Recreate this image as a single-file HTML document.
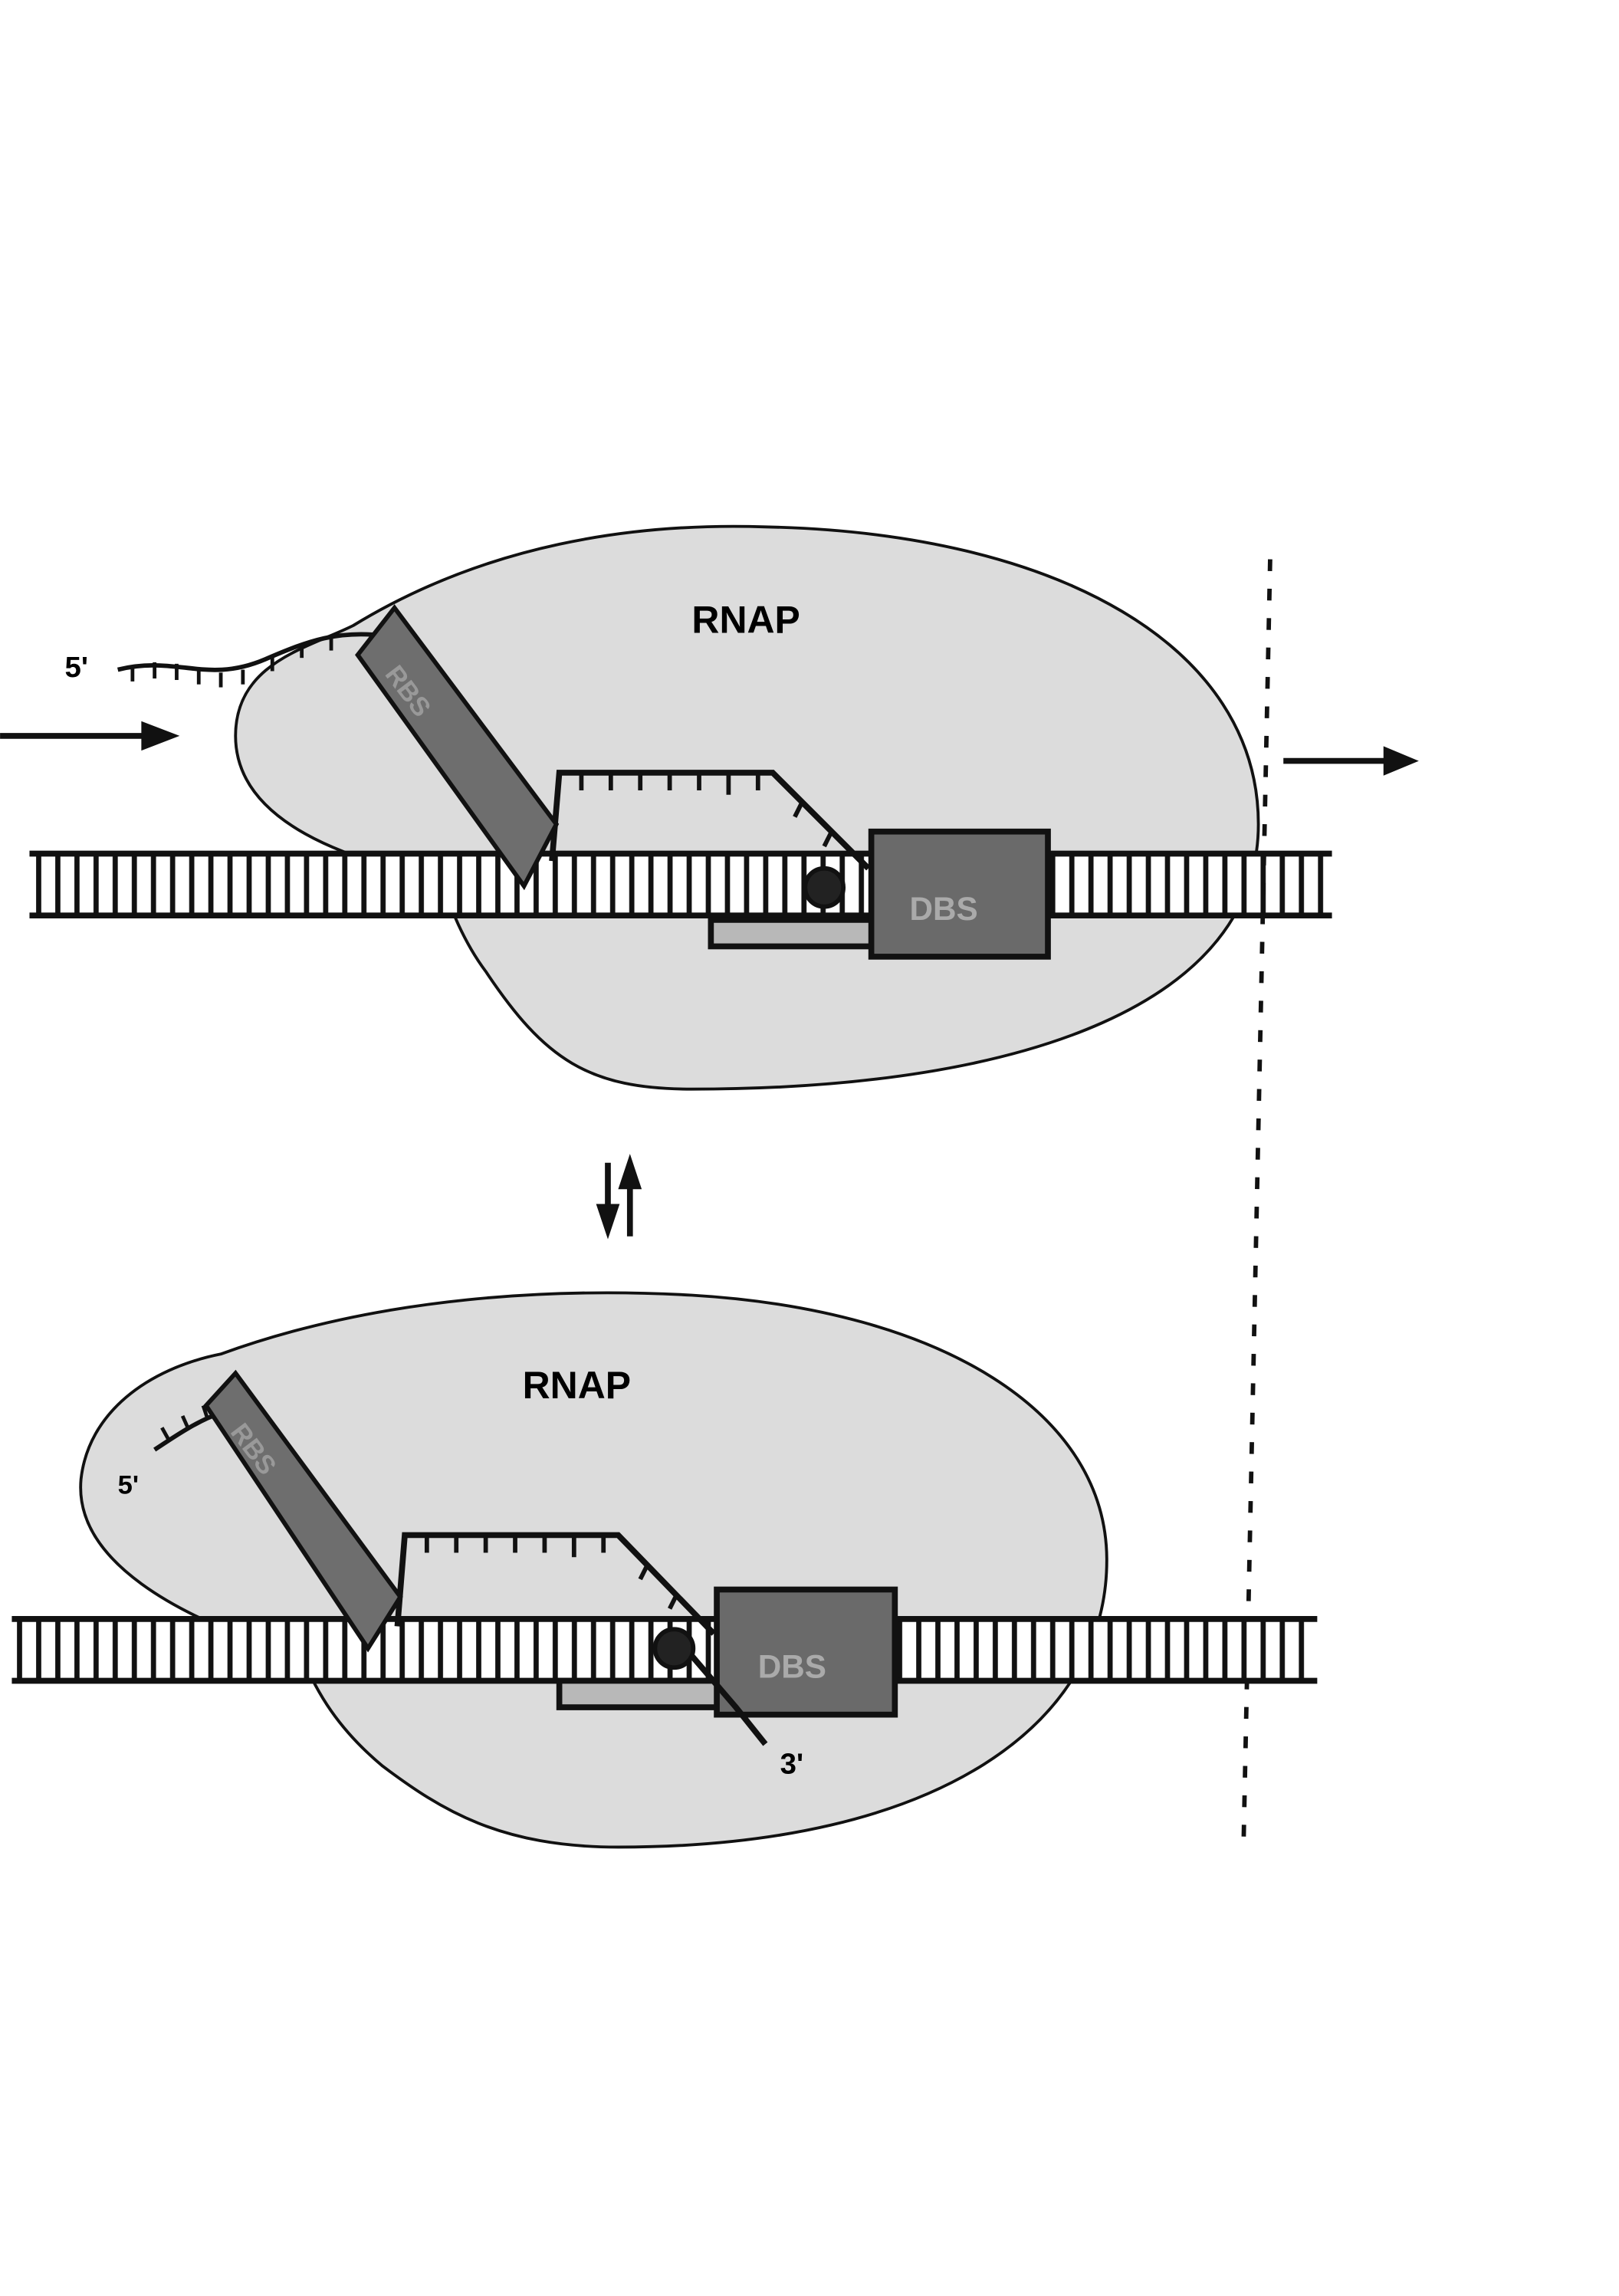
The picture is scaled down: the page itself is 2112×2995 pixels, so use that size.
<!DOCTYPE html>
<html><head><meta charset="utf-8"><style>
html,body{margin:0;padding:0;background:#fff;}
svg{display:block;}
text{font-family:"Liberation Sans",sans-serif;font-weight:bold;}
</style></head><body>
<svg width="2112" height="2995" viewBox="0 0 1100 1560" xmlns="http://www.w3.org/2000/svg">
<defs>
<pattern id="rung" x="0" y="0" width="13" height="60" patternUnits="userSpaceOnUse">
<rect x="0" y="0" width="13" height="60" fill="#111"/>
<rect x="2" y="0" width="9.5" height="60" fill="#fff"/>
</pattern>
</defs>
<rect width="1100" height="1560" fill="#fff"/>

<!-- TOP -->
<path d="M300,598 C240,585 160,560 160,500 C160,450 210,440 240,425 C330,370 430,355 520,358 C720,362 855,440 855,560 C855,680 700,740 470,740 C400,740 370,720 330,660 C315,640 305,615 300,598 Z" fill="#dcdcdc" stroke="#111" stroke-width="2"/>
<rect x="20" y="580" width="885" height="42" fill="url(#rung)"/>
<line x1="20" y1="580" x2="905" y2="580" stroke="#111" stroke-width="4"/>
<line x1="20" y1="622" x2="905" y2="622" stroke="#111" stroke-width="4"/>
<path d="M375,585 L380,525 L525,525 L590,590" fill="none" stroke="#111" stroke-width="4"/>
<g stroke="#111" stroke-width="3">
<line x1="395" y1="525" x2="395" y2="537"/><line x1="415" y1="525" x2="415" y2="537"/><line x1="435" y1="525" x2="435" y2="537"/><line x1="455" y1="525" x2="455" y2="537"/><line x1="475" y1="525" x2="475" y2="537"/><line x1="495" y1="525" x2="495" y2="540"/><line x1="515" y1="525" x2="515" y2="537"/><line x1="545" y1="545" x2="540" y2="555"/><line x1="565" y1="565" x2="560" y2="575"/>
</g>
<path d="M80,455 C120,445 140,465 180,448 C210,435 230,428 262,432" fill="none" stroke="#111" stroke-width="3"/>
<g stroke="#111" stroke-width="2.5">
<line x1="90" y1="452" x2="90" y2="463"/><line x1="105" y1="450" x2="105" y2="461"/><line x1="120" y1="451" x2="120" y2="462"/><line x1="135" y1="455" x2="135" y2="465"/><line x1="150" y1="457" x2="150" y2="467"/><line x1="165" y1="455" x2="165" y2="465"/><line x1="185" y1="446" x2="185" y2="456"/><line x1="205" y1="437" x2="205" y2="447"/><line x1="225" y1="432" x2="225" y2="442"/>
</g>
<text x="44" y="460" font-size="20">5'</text>
<polygon points="243,445 268,413 378,560 356,602" fill="#6e6e6e" stroke="#111" stroke-width="3"/>
<text x="255" y="470" font-size="18" fill="#999" transform="rotate(53 270 470)">RBS</text>
<rect x="483" y="625" width="117" height="18" fill="#b8b8b8" stroke="#111" stroke-width="4"/>
<rect x="592" y="565" width="120" height="85" fill="#6a6a6a" stroke="#111" stroke-width="4"/>
<text x="618" y="625" font-size="22" fill="#aaa">DBS</text>
<circle cx="560" cy="603" r="13" fill="#222" stroke="#111" stroke-width="3"/>
<text x="470" y="430" font-size="26">RNAP</text>
<line x1="0" y1="500" x2="100" y2="500" stroke="#111" stroke-width="4"/>
<polygon points="96,490 122,500 96,510" fill="#111"/>
<line x1="872" y1="517" x2="945" y2="517" stroke="#111" stroke-width="4"/>
<polygon points="940,507 964,517 940,527" fill="#111"/>
<line x1="863" y1="380" x2="845" y2="1250" stroke="#111" stroke-width="3" stroke-dasharray="8,12"/>
<line x1="413" y1="790" x2="413" y2="825" stroke="#111" stroke-width="4"/>
<polygon points="405,818 413,842 421,818" fill="#111"/>
<line x1="428" y1="805" x2="428" y2="840" stroke="#111" stroke-width="4"/>
<polygon points="420,808 428,784 436,808" fill="#111"/>

<!-- BOTTOM -->
<path d="M205,1125 C120,1100 50,1060 55,1005 C60,960 100,930 150,920 C260,880 380,875 470,880 C640,890 752,960 752,1060 C752,1170 640,1255 420,1255 C340,1255 300,1230 260,1200 C230,1175 215,1150 205,1125 Z" fill="#dcdcdc" stroke="#111" stroke-width="2"/>
<rect x="8" y="1100" width="887" height="42" fill="url(#rung)"/>
<line x1="8" y1="1100" x2="895" y2="1100" stroke="#111" stroke-width="4"/>
<line x1="8" y1="1142" x2="895" y2="1142" stroke="#111" stroke-width="4"/>
<path d="M270,1105 L275,1043 L420,1043 L485,1110" fill="none" stroke="#111" stroke-width="4"/>
<g stroke="#111" stroke-width="3">
<line x1="290" y1="1043" x2="290" y2="1055"/><line x1="310" y1="1043" x2="310" y2="1055"/><line x1="330" y1="1043" x2="330" y2="1055"/><line x1="350" y1="1043" x2="350" y2="1055"/><line x1="370" y1="1043" x2="370" y2="1055"/><line x1="390" y1="1043" x2="390" y2="1058"/><line x1="410" y1="1043" x2="410" y2="1055"/><line x1="440" y1="1063" x2="435" y2="1073"/><line x1="460" y1="1083" x2="455" y2="1093"/>
</g>
<path d="M105,985 C120,975 135,965 150,960" fill="none" stroke="#111" stroke-width="3"/>
<g stroke="#111" stroke-width="2.5">
<line x1="115" y1="979" x2="110" y2="970"/><line x1="128" y1="971" x2="124" y2="962"/><line x1="141" y1="964" x2="138" y2="955"/>
</g>
<text x="80" y="1015" font-size="18">5'</text>
<polygon points="140,955 160,933 272,1085 250,1120" fill="#6e6e6e" stroke="#111" stroke-width="3"/>
<text x="150" y="985" font-size="18" fill="#999" transform="rotate(53 165 985)">RBS</text>
<rect x="380" y="1142" width="120" height="18" fill="#b8b8b8" stroke="#111" stroke-width="4"/>
<rect x="487" y="1080" width="121" height="85" fill="#6a6a6a" stroke="#111" stroke-width="4"/>
<text x="515" y="1140" font-size="22" fill="#aaa">DBS</text>
<circle cx="458" cy="1120" r="13" fill="#222" stroke="#111" stroke-width="3"/>
<path d="M470,1125 L500,1160 L520,1185" fill="none" stroke="#111" stroke-width="4"/>
<text x="530" y="1205" font-size="20">3'</text>
<text x="355" y="950" font-size="26">RNAP</text>
</svg>
</body></html>
